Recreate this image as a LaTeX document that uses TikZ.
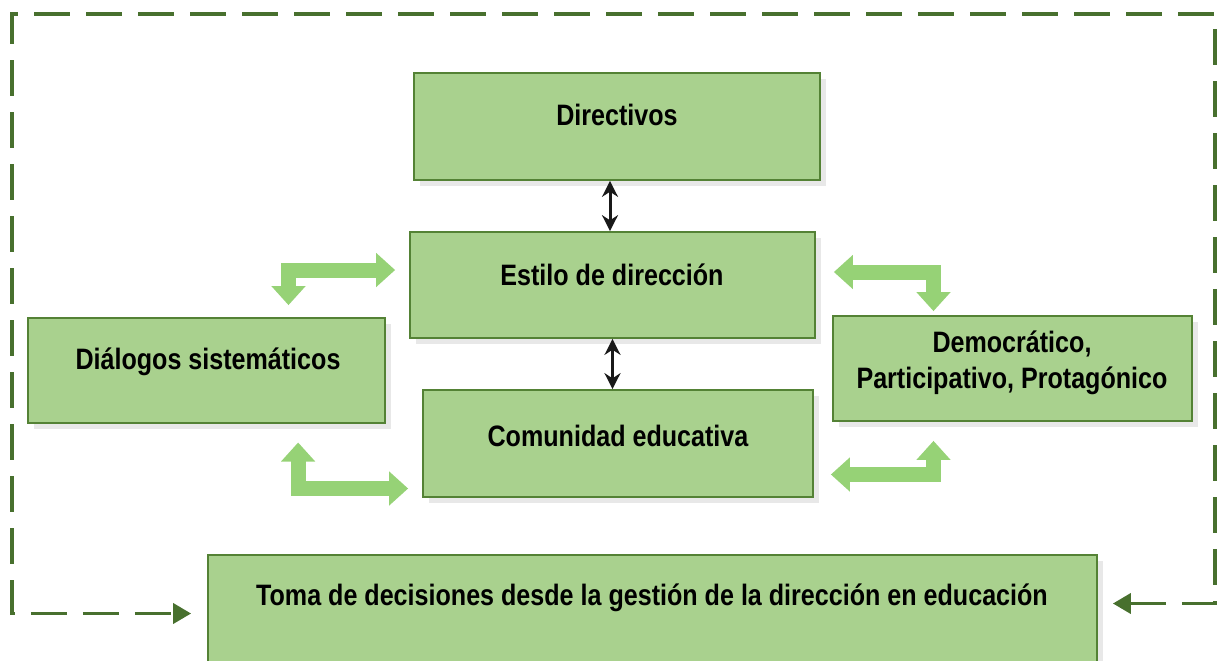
\documentclass[tikz,border=0pt]{standalone}
\usepackage{fontspec}
\setmainfont{Liberation Sans}
\newfontfamily\boxfont[FakeStretch=0.85]{Liberation Sans}
\usetikzlibrary{positioning, arrows.meta, fit, calc, shadows}

\definecolor{boxfill}{RGB}{169,209,142}
\definecolor{boxline}{RGB}{84,130,53}
\definecolor{arrgreen}{RGB}{150,210,118}
\definecolor{framegreen}{RGB}{72,112,46}

\begin{document}
\begin{tikzpicture}[
  x=0.2mm, y=-0.2mm,
  box/.style={rectangle, draw=boxline, fill=boxfill, line width=0.35mm, inner sep=0pt,
    drop shadow={opacity=0.18, shadow xshift=1.2mm, shadow yshift=-1.2mm}},
  boxtxt/.style={font=\boxfont\bfseries\fontsize{16.8pt}{20.5pt}\selectfont, align=center, inner sep=0pt},
  link/.style={{Stealth[length=3.2mm,width=3.2mm]}-{Stealth[length=3.2mm,width=3.2mm]}, line width=0.6mm, black!90},
  flow/.style={{Triangle[width=6.6mm,length=3.8mm]}-{Triangle[width=6.6mm,length=3.8mm]},
    arrgreen, line width=3mm, line join=miter},
  frame/.style={{Triangle[width=4mm,length=3.6mm]}-{Triangle[width=4mm,length=3.6mm]},
    framegreen, line width=0.75mm, dash pattern=on 7.2mm off 3.2mm},
]
\useasboundingbox (0,0) rectangle (1219,660);

% boxes
\node[box, fit={(414,73) (820,180)}]  (dir)  {};
\node[box, fit={(410,232) (815,338)}] (est)  {};
\node[box, fit={(28,318) (385,423)}]  (dia)  {};
\node[box, fit={(423,390) (813,497)}] (com)  {};
\node[box, fit={(833,316) (1192,421)}] (dem) {};
\node[box, fit={(208,555) (1097,672)}] (toma) {};

% labels
\node[boxtxt] (dirtxt)  at (617,115) {Directivos};
\node[boxtxt] (esttxt)  at (612,275) {Estilo de dirección};
\node[boxtxt] (diatxt)  at (208,362) {Diálogos sistemáticos};
\node[boxtxt] (comtxt)  at (618,436) {Comunidad educativa};
\node[boxtxt] (demtxt)  at (1012,363) {Democrático,\\Participativo, Protagónico};
\node[boxtxt] (tomatxt) at (652,598) {Toma de decisiones desde la gestión de la dirección en educación};

% black links
\draw[link] ($(dir.south)+(-7,0)$) -- ($(dir.south |- est.north)+(-7,0)$);
\draw[link] (est.south) -- (est.south |- com.north);

% green bent arrows
\draw[flow] ($(est.west)+(-14,-15)$) -| ($(dia.north)+(82,-12)$);
\draw[flow] ($(est.east)+(18,-13)$) -| ($(dem.north)+(-79,-4)$);
\draw[flow] ($(com.west)+(-124,-1)$) |- ($(com.west)+(-14,45)$);
\draw[flow] ($(com.east)+(17,31)$) -| ($(dem.south)+(-79,19)$);

% dashed frame
\coordinate (ftl) at (12,14);
\coordinate (ftr) at (1215,14);
\draw[frame] ($(toma.east)+(15,-10)$) -| (ftr) -- (ftl) |- ($(toma.west)+(-16,0)$);

\end{tikzpicture}
\end{document}
